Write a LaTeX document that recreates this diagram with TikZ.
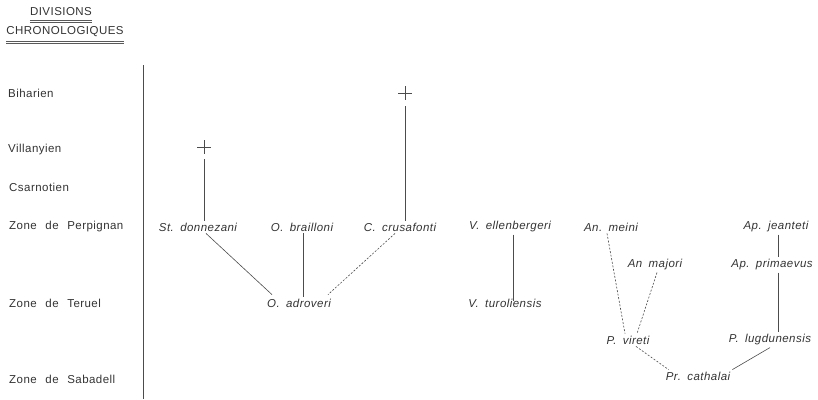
\documentclass[tikz,border=0pt]{standalone}
\usepackage{fontspec}
\setmainfont{Liberation Sans}[LetterSpace=4]
\usepackage{tikz}
\tikzstyle{zone}=[anchor=west,inner sep=0pt,font=\fontsize{11.5}{13}\selectfont,text=black!80]
\tikzstyle{taxon}=[inner sep=2pt,font=\fontsize{11.5}{13}\selectfont\itshape,text=black!80]
\tikzstyle{link}=[draw=black!70,line width=0.6pt]
\tikzstyle{doubtful}=[draw=black!70,line width=0.6pt,dash pattern=on 2pt off 1.6pt]
\tikzstyle{underline}=[draw=black!65,line width=0.5pt]
\newcommand{\gap}{\hspace{0.75em}}
\newcommand{\tgap}{\hspace{0.55em}}

\begin{document}
\begin{tikzpicture}[x=1pt,y=-1pt]
        \useasboundingbox (0,0) rectangle (818,399);
        % titre
        \node at (61,12) [zone,anchor=center] (hdA) {DIVISIONS};
        \node at (65,32) [zone,anchor=center] (hdB) {CHRONOLOGIQUES};
        \foreach \h in {hdA,hdB} {
          \draw [underline] ([yshift=-4pt]\h.south west) -- ([yshift=-4pt]\h.south east);
          \draw [underline] ([yshift=-5.5pt]\h.south west) -- ([yshift=-5.5pt]\h.south east);
        }
        % echelle
        \node at ( 8, 93) [zone] (bih) {Biharien};
        \node at ( 8,150) [zone] (vil) {Villanyien};
        \node at ( 9,187) [zone] (csa) {Csarnotien};
        \node at ( 9,227) [zone] (per) {Zone\gap de\gap Perpignan};
        \node at ( 9,303) [zone] (ter) {Zone\gap de\gap Teruel};
        \node at ( 9,379) [zone] (sab) {Zone\gap de\gap Sabadell};
        \coordinate (axtop) at (143,65);
        \coordinate (axbot) at (143,399);
        \draw [link] (axtop) -- (axbot);
        % especes
        \node at (198,227) [taxon] (Sd) {St.\tgap donnezani};
        \node at (302,227) [taxon] (Ob) {O.\tgap brailloni};
        \node at (400,227) [taxon] (Cc) {C.\tgap crusafonti};
        \node at (510,227) [taxon] (Ve) {V.\tgap ellenbergeri};
        \node at (611,227) [taxon] (Anm) {An.\tgap meini};
        \node at (776,227) [taxon] (Apj) {Ap.\tgap jeanteti};
        \node at (655,265) [taxon] (Anj) {An\tgap majori};
        \node at (772,265) [taxon] (App) {Ap.\tgap primaevus};
        \node at (299,303) [taxon] (Oa) {O.\tgap adroveri};
        \node at (505,303) [taxon] (Vt) {V.\tgap turoliensis};
        \node at (628,340) [taxon] (Pv) {P.\tgap vireti};
        \node at (770,340) [taxon] (Pl) {P.\tgap lugdunensis};
        \node at (698,376) [taxon] (Pc) {Pr.\tgap cathalai};
        % extinctions
        \coordinate (x1) at (204,147);
        \coordinate (x2) at (405,93);
        \foreach \c in {x1,x2}
          \draw [link] (\c) +(-7,0) -- +(7,0) (\c) +(0,-7) -- +(0,7);
        \draw [link] ([yshift=-12pt]x1) -- (x1 |- Sd.north);
        \draw [link] ([yshift=-13pt]x2) -- (x2 |- Cc.north);
        % liens
        \draw [link] ([xshift=8pt]Sd.south) to ([xshift=7pt,yshift=2pt]Oa.north west);
        \draw [link] ([xshift=1pt]Ob.south) to ([xshift=1pt]Ob.south |- Oa.north);
        \draw [doubtful] ([xshift=-5pt]Cc.south) to ([xshift=-5pt,yshift=2pt]Oa.north east);
        \draw [link] ([xshift=3pt]Ve.south) to ([xshift=3pt,yshift=-4pt]Ve.south |- Vt.north);
        \draw [doubtful] ([xshift=-4pt]Anm.south) to ([xshift=-3pt]Pv.north);
        \draw [doubtful] ([xshift=2pt]Anj.south) to ([xshift=9pt]Pv.north);
        \draw [link] ([xshift=2pt]Apj.south) to ([xshift=2pt]Apj.south |- App.north);
        \draw [link] ([xshift=6pt]App.south) to ([xshift=6pt]App.south |- Pl.north);
        \draw [doubtful] ([xshift=8pt]Pv.south) to ([xshift=5pt]Pc.north west);
        \draw [link] (Pl.south) to (Pc.north east);
      \end{tikzpicture}
\end{document}
